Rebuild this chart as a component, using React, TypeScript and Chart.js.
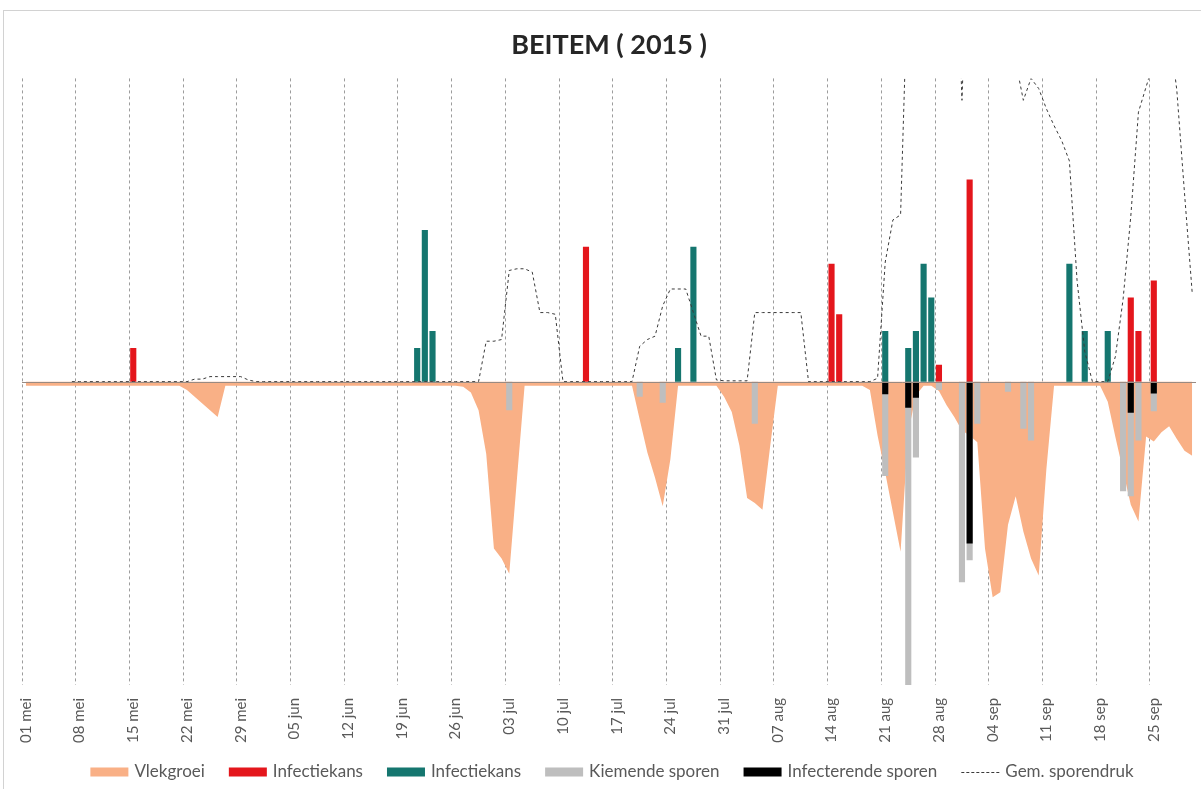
import React, { useEffect, useRef } from 'react';
import { Chart, registerables } from 'chart.js';

Chart.register(...registerables);

// ---- categories: one per day, 01 mei .. 30 sep 2015 ----
const MONTHS = ['mei', 'jun', 'jul', 'aug', 'sep'];
const MONTH_DAYS = [31, 30, 31, 31, 30];
const DAY_LABELS: string[] = [];
MONTHS.forEach((m, mi) => {
  for (let d = 1; d <= MONTH_DAYS[mi]; d++) DAY_LABELS.push(`${String(d).padStart(2, '0')} ${m}`);
});

// ---- series ----
// Vlekgroei (area, negative), per day
const vlekgroeiMei = [
  -0.25, -0.25, -0.25, -0.25, -0.25, -0.25, -0.25, -0.25, -0.25, -0.25, -0.25, -0.25, -0.25, -0.25, -0.25, -0.25,
  -0.25, -0.25, -0.25, -0.25, -0.25, -0.5, -0.9, -1.3, -1.7, -2.1, -0.25, -0.25, -0.25, -0.25, -0.25,
];
const vlekgroeiJun = [
  -0.25, -0.25, -0.25, -0.25, -0.25, -0.25, -0.25, -0.25, -0.25, -0.25, -0.25, -0.25, -0.25, -0.25, -0.25, -0.25,
  -0.25, -0.25, -0.25, -0.25, -0.25, -0.25, -0.25, -0.25, -0.25, -0.25, -0.3, -0.65, -1.7, -4.3,
];
const vlekgroeiJul = [
  -9.9, -10.5, -11.4, -5.8, -0.25, -0.25, -0.25, -0.25, -0.25, -0.25, -0.25, -0.25, -0.25, -0.25, -0.25, -0.25,
  -0.25, -0.25, -0.25, -2.25, -4.2, -5.7, -7.4, -4.6, -0.25, -0.25, -0.25, -0.25, -0.25, -0.25, -0.9,
];
const vlekgroeiAug = [
  -1.8, -3.8, -6.9, -7.2, -7.6, -3.85, -0.25, -0.25, -0.25, -0.25, -0.25, -0.25, -0.25, -0.25, -0.25, -0.25,
  -0.25, -0.25, -0.5, -3.2, -5.4, -7.75, -10.1, -3, -0.8, -0.25, -0.25, -0.55, -1.4, -2.1, -2.9,
];
const vlekgroeiSep = [
  -3.2, -3.6, -9.9, -12.8, -12.5, -8.5, -6.8, -8.9, -10.5, -11.5, -5.2, -0.25, -0.25, -0.25, -0.25, -0.25,
  -0.25, -0.25, -1.2, -3.3, -5.3, -7.3, -8.3, -3.25, -3.55, -3.0, -2.65, -3.4, -4.1, -4.4,
];

// Gem. sporendruk (dashed line), per day
const sporendrukMei = [
  null, null, null, null, null, null, 0, 0, 0, 0, 0, 0, 0, 0, 0, 0,
  0, 0, 0, 0, 0, 0, 0.15, 0.15, 0.3, 0.3, 0.3, 0.3, 0.3, 0.1, 0,
];
const sporendrukJun = [
  0, 0, 0, 0, 0, 0, 0, 0, 0, 0, 0, 0, 0, 0, 0, 0, 0, 0, 0, 0, 0, 0, 0, 0, 0, 0, 0, 0, 0, 2.4,
];
const sporendrukJul = [
  2.4, 2.5, 6.6, 6.7, 6.7, 6.5, 4.1, 4.1, 4.0, 0, 0, 0, 0, 0, 0, 0,
  0, 0, 0, 2.1, 2.5, 2.7, 4.5, 5.5, 5.5, 5.5, 4.1, 2.7, 2.7, 0.1, 0.05,
];
const sporendrukAug = [
  0.05, 0.05, 0.05, 4.1, 4.1, 4.1, 4.1, 4.1, 4.1, 4.1, 0, 0, 0, 0, 0, 0,
  0, 0, 0, 0.2, 7.1, 9.6, 9.9, 25, 30, 32, 32, 31, 30, 30, 16.7,
];
const sporendrukSep = [
  30, 29, 28, 28, 27, 25, 19, 16.7, 18.0, 17.4, 16.2, 15.2, 14.3, 13.1, 6.0, 1.8,
  0, 0, 0, 1.5, 4.9, 9.8, 16.0, 17.5, 19, 20, 21, 17.3, 11.2, 5.3,
];

// Bars: [day, value]
const infectiekansRood: [string, number][] = [
  ['15 mei', 2], ['13 jul', 8], ['14 aug', 7], ['15 aug', 4], ['28 aug', 1],
  ['01 sep', 12], ['22 sep', 5], ['23 sep', 3], ['25 sep', 6],
];
const infectiekansGroen: [string, number][] = [
  ['21 jun', 2], ['22 jun', 9], ['23 jun', 3], ['25 jul', 2], ['27 jul', 8],
  ['21 aug', 3], ['24 aug', 2], ['25 aug', 3], ['26 aug', 7], ['27 aug', 5],
  ['14 sep', 7], ['16 sep', 3], ['19 sep', 3],
];
const kiemendeSporen: [string, number][] = [
  ['03 jul', -1.7], ['20 jul', -0.9], ['23 jul', -1.25], ['04 aug', -2.5],
  ['21 aug', -5.6], ['24 aug', -18], ['25 aug', -4.5], ['28 aug', -0.5],
  ['31 aug', -11.9], ['01 sep', -10.6], ['02 sep', -2.5], ['06 sep', -0.6],
  ['08 sep', -2.8], ['09 sep', -3.5], ['21 sep', -6.5], ['22 sep', -6.8],
  ['23 sep', -3.5], ['25 sep', -1.75],
];
const infecterendeSporen: [string, number][] = [
  ['21 aug', -0.75], ['24 aug', -1.55], ['25 aug', -0.95], ['01 sep', -9.6],
  ['22 sep', -1.85], ['25 sep', -0.7],
];

const Y_MIN = -18;
const Y_MAX = 18;

const SALMON = '#F9B086';
const RED = '#E4161C';
const TEAL = '#15766F';
const GRAY = '#BEBEBE';
const BLACK = '#000000';
const DASH = '#3a3a3a';

const vlekgroei = [...vlekgroeiMei, ...vlekgroeiJun, ...vlekgroeiJul, ...vlekgroeiAug, ...vlekgroeiSep];
const sporendruk = [...sporendrukMei, ...sporendrukJun, ...sporendrukJul, ...sporendrukAug, ...sporendrukSep];

function toSeries(pairs: [string, number][]): (number | null)[] {
  const out: (number | null)[] = DAY_LABELS.map(() => null);
  pairs.forEach(([d, v]) => {
    const i = DAY_LABELS.indexOf(d);
    if (i >= 0) out[i] = v;
  });
  return out;
}

const zeroLinePlugin = {
  id: 'zeroLine',
  afterDatasetsDraw(chart: any) {
    const { ctx, chartArea, scales } = chart;
    const y = Math.round(scales.y.getPixelForValue(0)) + 0.5;
    ctx.save();
    ctx.strokeStyle = '#998a82';
    ctx.lineWidth = 1;
    ctx.beginPath();
    ctx.moveTo(chartArea.left, y);
    ctx.lineTo(chartArea.right, y);
    ctx.stroke();
    ctx.restore();
  },
};

const LEGEND_CENTER_X = 612;
const LEGEND_Y = 772;

const customLegendPlugin = {
  id: 'customLegend',
  afterDraw(chart: any) {
    const { ctx } = chart;
    const ds = chart.data.datasets;
    const items = ds.map((d: any) => ({
      label: d.label as string,
      color: (d.type === 'line' && !d.fill ? d.borderColor : d.backgroundColor) as string,
      dashed: d.type === 'line' && !d.fill,
    }));
    ctx.save();
    ctx.font = '17px Lato';
    const boxW = 38;
    const boxH = 9;
    const gapText = 6;
    const gapItem = 24;
    const widths = items.map((it: any) => boxW + gapText + ctx.measureText(it.label).width);
    const total = widths.reduce((a: number, b: number) => a + b, 0) + gapItem * (items.length - 1);
    let x = LEGEND_CENTER_X - total / 2;
    ctx.textBaseline = 'middle';
    ctx.textAlign = 'left';
    items.forEach((it: any, k: number) => {
      if (it.dashed) {
        ctx.strokeStyle = it.color;
        ctx.lineWidth = 1;
        ctx.setLineDash([3, 2]);
        ctx.beginPath();
        ctx.moveTo(x, LEGEND_Y + 0.5);
        ctx.lineTo(x + boxW, LEGEND_Y + 0.5);
        ctx.stroke();
        ctx.setLineDash([]);
      } else {
        ctx.fillStyle = it.color;
        ctx.fillRect(x, LEGEND_Y - boxH / 2, boxW, boxH);
      }
      ctx.fillStyle = '#595959';
      ctx.fillText(it.label, x + boxW + gapText, LEGEND_Y);
      x += widths[k] + gapItem;
    });
    ctx.restore();
  },
};

export default function App() {
  const ref = useRef<HTMLCanvasElement>(null);

  useEffect(() => {
    if (!ref.current) return;
    const barCommon = { grouped: false, barPercentage: 0.8, categoryPercentage: 1.0, borderWidth: 0 };
    const chart = new Chart(ref.current, {
      type: 'bar',
      data: {
        labels: DAY_LABELS,
        datasets: [
          {
            type: 'line',
            label: 'Vlekgroei',
            data: vlekgroei,
            backgroundColor: SALMON,
            borderColor: SALMON,
            borderWidth: 0,
            fill: 'origin',
            pointRadius: 0,
            tension: 0,
            order: 10,
          } as any,
          { type: 'bar', label: 'Infectiekans', data: toSeries(infectiekansRood), backgroundColor: RED, order: 5, ...barCommon } as any,
          { type: 'bar', label: 'Infectiekans', data: toSeries(infectiekansGroen), backgroundColor: TEAL, order: 5, ...barCommon } as any,
          { type: 'bar', label: 'Kiemende sporen', data: toSeries(kiemendeSporen), backgroundColor: GRAY, order: 4, ...barCommon } as any,
          { type: 'bar', label: 'Infecterende sporen', data: toSeries(infecterendeSporen), backgroundColor: BLACK, order: 3, ...barCommon } as any,
          {
            type: 'line',
            label: 'Gem. sporendruk',
            data: sporendruk,
            borderColor: DASH,
            backgroundColor: DASH,
            borderWidth: 1,
            borderDash: [3, 3],
            fill: false,
            pointRadius: 0,
            tension: 0,
            order: 1,
          } as any,
        ],
      },
      options: {
        responsive: false,
        maintainAspectRatio: false,
        devicePixelRatio: 1,
        animation: false,
        events: [],
        layout: { padding: { left: 22, right: 5, top: 10, bottom: 43 } },
        plugins: {
          legend: { display: false },
          tooltip: { enabled: false },
          title: {
            display: true,
            text: 'BEITEM ( 2015 )',
            color: '#262626',
            font: { family: 'Lato', size: 27, weight: 'bold' },
            padding: { top: 19, bottom: 17 },
          },
        },
        scales: {
          x: {
            type: 'category',
            offset: true,
            grid: {
              offset: true,
              drawTicks: true,
              tickLength: 10,
              tickColor: 'rgba(0,0,0,0)',
              lineWidth: 1,
              color: (c: any) => (c.index % 7 === 0 ? '#9c9c9c' : 'rgba(0,0,0,0)'),
            },
            border: { display: false, dash: [3, 3] },
            ticks: {
              autoSkip: false,
              minRotation: 90,
              maxRotation: 90,
              padding: 3,
              color: '#595959',
              font: { family: 'Lato', size: 15 },
              callback: (_v: any, i: number) => (i % 7 === 0 ? DAY_LABELS[i] : []),
            },
          },
          y: {
            display: false,
            min: Y_MIN,
            max: Y_MAX,
          },
        },
      },
      plugins: [zeroLinePlugin, customLegendPlugin],
    } as any);
    return () => chart.destroy();
  }, []);

  return (
    <div style={{ position: 'fixed', left: 0, top: 0, width: 1201, height: 789, background: '#fff', overflow: 'hidden' }}>
      <div
        style={{
          position: 'absolute',
          left: 3,
          top: 10,
          width: 1230,
          height: 820,
          border: '1px solid #d2d2d2',
        }}
      />
      <canvas ref={ref} width={1201} height={789} style={{ position: 'absolute', left: 0, top: 0, width: 1201, height: 789 }} />
    </div>
  );
}
